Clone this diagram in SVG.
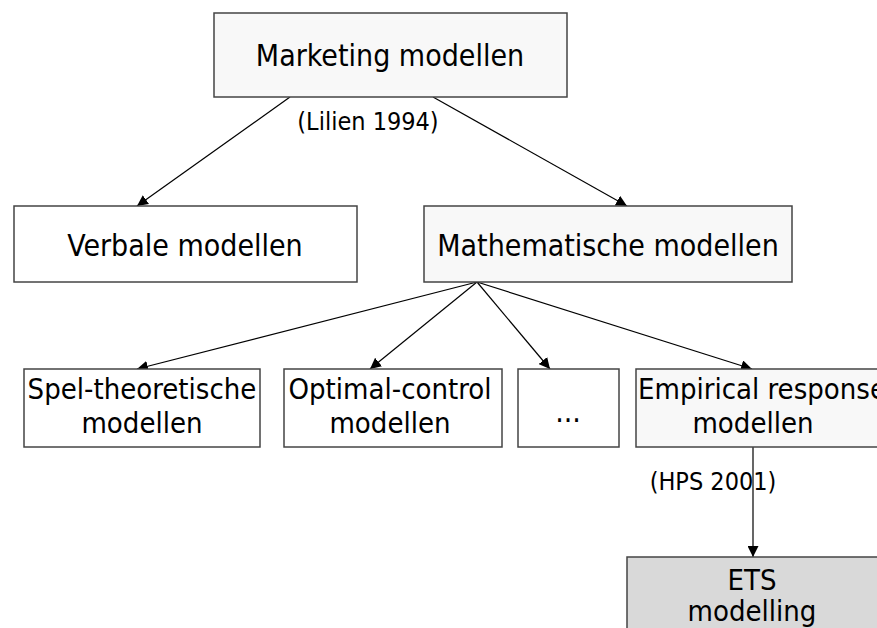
<svg xmlns="http://www.w3.org/2000/svg" width="877" height="628" viewBox="0 0 877 628">
<defs>
<marker id="arr" viewBox="0 0 10 10" refX="10" refY="5" markerWidth="11" markerHeight="11" markerUnits="userSpaceOnUse" orient="auto">
<path d="M0,0 L10,5 L0,10 z" fill="#000"/>
</marker>
<style>
.box{stroke:#444;stroke-width:1.5}
.w{fill:#fff}
.l{fill:#f8f8f8}
.g{fill:#d9d9d9}
text{font-family:"DejaVu Sans Condensed","DejaVu Sans",sans-serif;fill:#000;text-anchor:middle}
.t{font-size:30px}
.r{font-size:29px}
.s{font-size:25px}
.c line{stroke:#000;stroke-width:1.2;marker-end:url(#arr)}
</style>
</defs>
<rect width="877" height="628" fill="#fff"/>
<g class="c" id="connectors">
<line x1="290" y1="97" x2="137" y2="206"/>
<line x1="433" y1="97" x2="627" y2="206"/>
<line x1="477" y1="282" x2="137" y2="369"/>
<line x1="477" y1="282" x2="370" y2="369"/>
<line x1="477" y1="282" x2="550" y2="369"/>
<line x1="477" y1="282" x2="752" y2="369"/>
<line x1="753" y1="447" x2="753" y2="557"/>
</g>
<g id="n-marketing">
<rect class="box l" x="214" y="13" width="353" height="84"/>
<text class="t" x="390" y="66">Marketing modellen</text>
</g>
<g id="lbl-lilien"><text class="s" x="368" y="130">(Lilien 1994)</text></g>
<g id="n-verbale">
<rect class="box w" x="14" y="206" width="343" height="76"/>
<text class="t" x="185" y="256">Verbale modellen</text>
</g>
<g id="n-math">
<rect class="box l" x="424" y="206" width="368" height="76"/>
<text class="t" x="608" y="256">Mathematische modellen</text>
</g>
<g id="n-spel">
<rect class="box w" x="24" y="369" width="236" height="78"/>
<text class="r" x="142" y="399">Spel-theoretische</text>
<text class="r" x="142" y="433">modellen</text>
</g>
<g id="n-optimal">
<rect class="box w" x="284" y="369" width="218" height="78"/>
<text class="r" x="390" y="399">Optimal-control</text>
<text class="r" x="390" y="433">modellen</text>
</g>
<g id="n-dots">
<rect class="box w" x="518" y="369" width="101" height="78"/>
<text class="t" x="568" y="422">...</text>
</g>
<g id="n-empirical">
<rect class="box l" x="636" y="369" width="250" height="78"/>
<text class="r" x="762" y="399">Empirical response</text>
<text class="r" x="753" y="433">modellen</text>
</g>
<g id="lbl-hps"><text class="s" x="713" y="490">(HPS 2001)</text></g>
<g id="n-ets">
<rect class="box g" x="627" y="557" width="260" height="80"/>
<text class="r" x="752" y="590">ETS</text>
<text class="r" x="752" y="621">modelling</text>
</g>
</svg>
